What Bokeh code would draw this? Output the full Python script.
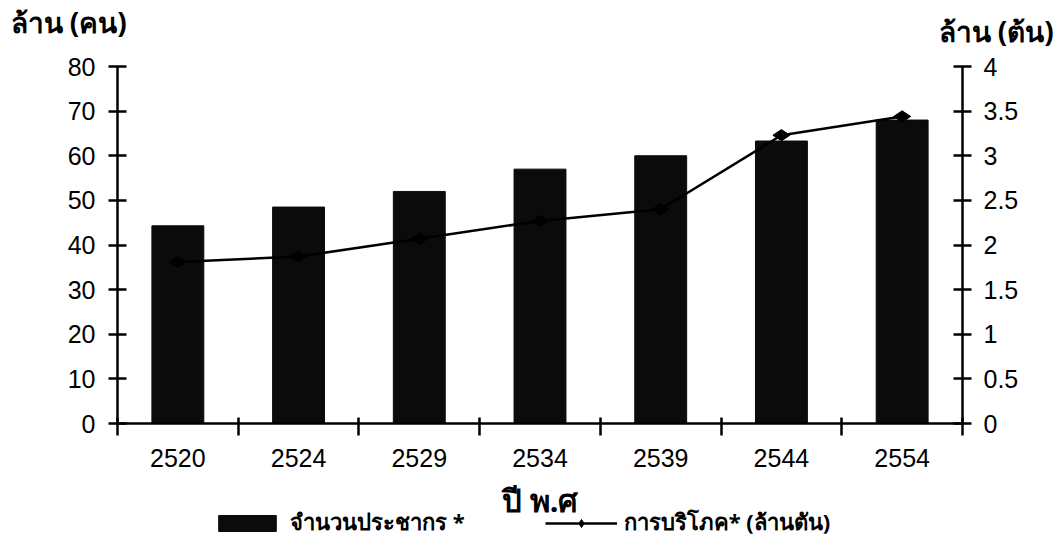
from bokeh.plotting import figure
from bokeh.models import (Range1d, LinearAxis, FixedTicker, NumeralTickFormatter,
                          CustomJSTickFormatter, Legend, LegendItem, Label)
from bokeh.embed import file_html
from bokeh.resources import INLINE

# Thai population (million people) and consumption (million tonnes) by Buddhist-era year
years = ["2520", "2524", "2529", "2534", "2539", "2544", "2554"]
population = [44.3, 48.5, 52.0, 57.0, 60.0, 63.3, 68.0]
consumption = [1.81, 1.87, 2.07, 2.27, 2.40, 3.23, 3.44]
left_ticks = [0, 10, 20, 30, 40, 50, 60, 70, 80]
right_ticks = [0, 0.5, 1, 1.5, 2, 2.5, 3, 3.5, 4]
left_max, right_max = 80, 4

FONT = "Liberation Sans"
THAI = "Noto Sans"
W, H = 1058, 549

# the frame fills the whole canvas; the axes sit at fixed data positions so that
# captions and legend around them stay inside the drawable area
AX_LEFT, AX_RIGHT, AX_BOTTOM, AX_TOP = 117, 962, 423, 66
n = len(years)
px_per_x = (AX_RIGHT - AX_LEFT) / n
px_per_y = (AX_BOTTOM - AX_TOP) / left_max
ratio = right_max / left_max

def dx(px):
    return (px - AX_LEFT) / px_per_x

def dy(py):
    return (AX_BOTTOM - py) / px_per_y

p = figure(width=W, height=H, output_backend="svg", toolbar_location=None,
           x_range=Range1d(dx(0), dx(W)), y_range=Range1d(dy(H), dy(0)),
           min_border=0, outline_line_color=None)
p.grid.visible = False
p.extra_y_ranges = {"t": Range1d(dy(H) * ratio, dy(0) * ratio)}

xc = [i + 0.5 for i in range(n)]

bars = p.vbar(x=xc, top=population, width=0.43, fill_color="#0b0b0b", line_color="#0b0b0b")
line = p.line(xc, consumption, y_range_name="t", line_color="black", line_width=2.5)
pts = p.scatter(xc, consumption, y_range_name="t", marker="diamond", angle=1.5708,
                size=17, fill_color="black", line_color="black")

def style_axis(ax):
    ax.axis_line_width = 2.5
    ax.axis_line_color = "black"
    ax.major_tick_line_width = 2.5
    ax.minor_tick_line_width = 2.5
    ax.major_tick_line_color = "black"
    ax.minor_tick_line_color = "black"
    ax.major_label_text_font = FONT
    ax.major_label_text_font_size = "25px"
    ax.major_label_text_color = "black"

# left axis
ya = p.yaxis[0]
ya.ticker = FixedTicker(ticks=left_ticks)
ya.fixed_location = 0
ya.bounds = (0, left_max)
style_axis(ya)
ya.major_tick_in = 9
ya.major_tick_out = 9
ya.minor_tick_in = 0
ya.minor_tick_out = 0
ya.major_label_standoff = 13

# right axis
ra = LinearAxis(y_range_name="t", ticker=FixedTicker(ticks=right_ticks),
                formatter=NumeralTickFormatter(format="0.[0]"),
                fixed_location=n, bounds=(0, right_max))
style_axis(ra)
ra.major_tick_in = 9
ra.major_tick_out = 9
ra.minor_tick_in = 0
ra.minor_tick_out = 0
ra.major_label_standoff = 12
p.add_layout(ra, "right")

# bottom axis: labels at category centres, tick marks on category boundaries
xa = p.xaxis[0]
xa.ticker = FixedTicker(ticks=xc, minor_ticks=list(range(n + 1)))
xa.formatter = CustomJSTickFormatter(args=dict(labels=years),
                                     code="return labels[Math.floor(tick)];")
xa.fixed_location = 0
xa.bounds = (0, n)
style_axis(xa)
xa.major_tick_in = 0
xa.major_tick_out = 0
xa.minor_tick_in = 6
xa.minor_tick_out = 12
xa.major_label_standoff = 13
xa.axis_label = "ปี พ.ศ"
xa.axis_label_text_font = THAI
xa.axis_label_text_font_style = "bold"
xa.axis_label_text_font_size = "31px"
xa.axis_label_text_color = "black"
xa.axis_label_standoff = 9

legend = Legend(items=[LegendItem(label="จำนวนประชากร *", renderers=[bars]),
                       LegendItem(label="การบริโภค* (ล้านตัน)", renderers=[line, pts])],
                orientation="horizontal", location=(211, 9),
                glyph_width=72, glyph_height=20, spacing=80, padding=0, margin=0,
                label_text_font=THAI, label_text_font_style="bold",
                label_text_font_size="22px", label_text_color="black", label_standoff=7,
                border_line_color=None, background_fill_alpha=0)
p.add_layout(legend, "center")

# unit captions above each value axis
for caption, cx, cy in [("ล้าน (คน)", 10, 21), ("ล้าน (ต้น)", 938, 30)]:
    p.add_layout(Label(x=dx(cx), y=dy(cy), text=caption, text_font=THAI,
                       text_font_style="bold", text_font_size="28px",
                       text_color="black", text_baseline="middle", text_align="left"))

open("out.html", "w").write(file_html(p, INLINE))
